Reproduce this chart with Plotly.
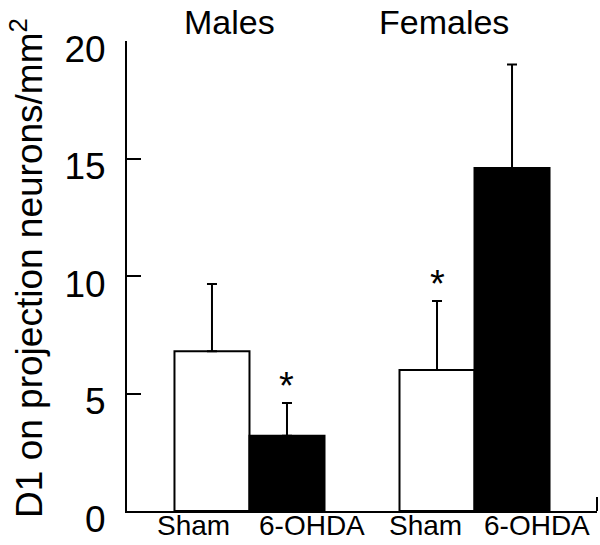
import plotly.graph_objects as go

# Data
groups = ["Males", "Females"]
conditions = ["Sham", "6-OHDA", "Sham", "6-OHDA"]
means = [6.8, 3.2, 6.0, 14.6]
errors = [2.86, 1.4, 2.94, 4.4]
significant = [False, True, True, False]
y_ticks = [0, 5, 10, 15, 20]

# positions (layout)
bar_x = [0, 1, 3, 4]
label_x = [-0.24, 1.33, 2.84, 4.33]
group_label_x = [0.24, 3.09]
colors = ["white", "black", "white", "black"]
FONT = "Liberation Sans, Arial, sans-serif"

fig = go.Figure()
fig.add_trace(go.Bar(
    x=bar_x, y=means, width=1,
    marker=dict(color=colors, line=dict(color="black", width=2)),
    error_y=dict(type="data", symmetric=False, array=errors,
                 arrayminus=[0] * len(errors),
                 color="black", thickness=2, width=5),
    showlegend=False,
))

annotations = []
for xi, m, e, s in zip(bar_x, means, errors, significant):
    if s:
        annotations.append(dict(x=xi, y=m + e, xref="x", yref="y", text="*",
                                showarrow=False, yanchor="bottom", yshift=-6,
                                font=dict(family=FONT, size=38, color="black")))
for gx, g in zip(group_label_x, groups):
    annotations.append(dict(x=gx, y=1, xref="x", yref="paper", text=g,
                            showarrow=False, yanchor="middle", yshift=19,
                            font=dict(family=FONT, size=34, color="black")))
for lx, c in zip(label_x, conditions):
    annotations.append(dict(x=lx, y=0, xref="x", yref="y", text=c,
                            showarrow=False, yanchor="top", yshift=3,
                            font=dict(family=FONT, size=28, color="black")))
annotations.append(dict(x=-0.213, y=0.517, xref="paper", yref="paper",
                        text="D1 on projection neurons/mm<sup>2</sup>",
                        textangle=-90, showarrow=False,
                        xanchor="center", yanchor="middle",
                        font=dict(family=FONT, size=37, color="black")))

fig.update_layout(
    width=600, height=545,
    margin=dict(l=127, r=3, t=41, b=34),
    plot_bgcolor="white", paper_bgcolor="white",
    annotations=annotations,
    shapes=[dict(type="line", xref="paper", yref="paper", x0=1, x1=1,
                 y0=0, y1=14 / 470, line=dict(color="black", width=2))],
    xaxis=dict(range=[-1.133, 5.133], showline=True, linecolor="black",
               linewidth=2, ticks="", showticklabels=False,
               showgrid=False, zeroline=False, automargin=False),
    yaxis=dict(range=[0, 20], showline=True, linecolor="black", linewidth=2,
               ticks="inside", ticklen=14, tickwidth=2, tickcolor="black",
               tickvals=y_ticks, showgrid=False, zeroline=False,
               ticklabelstandoff=12, ticklabelshift=8, automargin=False,
               tickfont=dict(family=FONT, size=37, color="black")),
)

fig.write_html("out.html", config={"displayModeBar": False},
               post_script="document.body.style.margin='0';")
